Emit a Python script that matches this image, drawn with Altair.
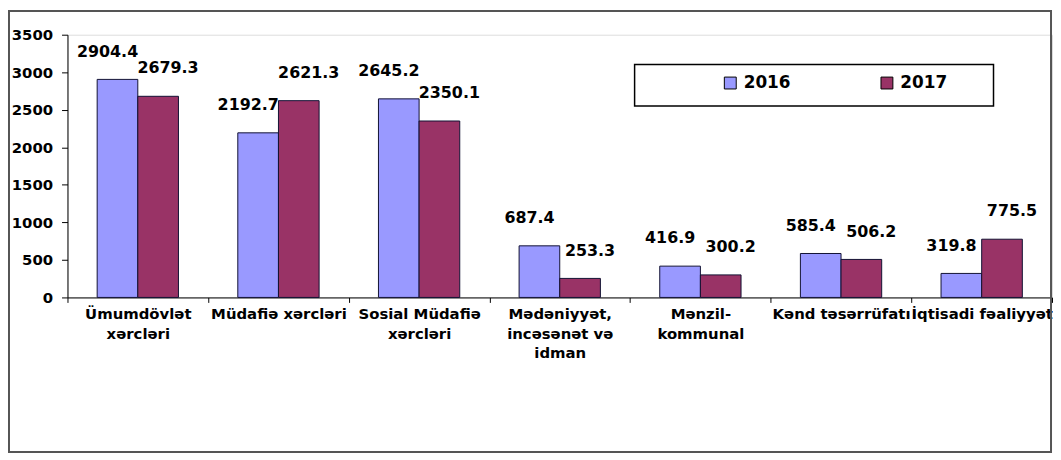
import json
import altair as alt
import pandas as pd

categories = [
    "Ümumdövlət xərcləri",
    "Müdafiə xərcləri",
    "Sosial Müdafiə xərcləri",
    "Mədəniyyət, incəsənət və idman",
    "Mənzil-kommunal",
    "Kənd təsərrüfatı",
    "İqtisadi fəaliyyət",
]
category_lines = [
    ["Ümumdövlət", "xərcləri"],
    ["Müdafiə xərcləri"],
    ["Sosial Müdafiə", "xərcləri"],
    ["Mədəniyyət,", "incəsənət və", "idman"],
    ["Mənzil-", "kommunal"],
    ["Kənd təsərrüfatı"],
    ["İqtisadi fəaliyyət"],
]
years = ["2016", "2017"]
values_2016 = [2904.4, 2192.7, 2645.2, 687.4, 416.9, 585.4, 319.8]
values_2017 = [2679.3, 2621.3, 2350.1, 253.3, 300.2, 506.2, 775.5]
colors = ["#9999FF", "#993366"]

rows = []
for c, v16, v17 in zip(categories, values_2016, values_2017):
    rows.append({"cat": c, "year": "2016", "value": v16})
    rows.append({"cat": c, "year": "2017", "value": v17})
df = pd.DataFrame(rows)

FONT = "DejaVu Sans"

label_expr = (
    json.dumps(category_lines, ensure_ascii=False)
    + "[indexof("
    + json.dumps(categories, ensure_ascii=False)
    + ", datum.label)]"
)

base = alt.Chart(df).encode(
    x=alt.X(
        "cat:N",
        sort=categories,
        scale=alt.Scale(paddingInner=0, paddingOuter=0),
        axis=alt.Axis(
            title=None,
            labelAngle=0,
            labelExpr=label_expr,
            labelFont=FONT,
            labelFontSize=15,
            labelFontWeight="bold",
            labelColor="#000000",
            labelLineHeight=20,
            labelPadding=4,
            labelLimit=400,
            tickBand="extent",
            tickSize=5,
            tickColor="#000000",
            domainColor="#000000",
            labelBaseline="top",
        ),
    ),
    xOffset=alt.XOffset("year:N", sort=years, scale=alt.Scale(paddingOuter=0.73, paddingInner=0)),
    y=alt.Y(
        "value:Q",
        scale=alt.Scale(domain=[0, 3500], nice=False),
        axis=alt.Axis(
            title=None,
            values=list(range(0, 3501, 500)),
            format="d",
            grid=False,
            labelFont=FONT,
            labelFontSize=15,
            labelFontWeight="bold",
            labelColor="#000000",
            labelPadding=9,
            tickSize=6,
            tickColor="#000000",
            domainColor="#000000",
        ),
    ),
)

bars = base.mark_bar(stroke="#111133", strokeWidth=1).encode(
    color=alt.Color(
        "year:N",
        sort=years,
        scale=alt.Scale(domain=years, range=colors),
        legend=alt.Legend(
            title=None,
            orient="none",
            legendX=572,
            legendY=30,
            direction="horizontal",
            symbolType="square",
            symbolSize=144,
            symbolStrokeColor="#000000",
            symbolStrokeWidth=1,
            symbolOpacity=1,
            labelFont=FONT,
            labelFontSize=17,
            labelFontWeight="bold",
            labelColor="#000000",
            labelOffset=5,
            columnPadding=10,
            padding=10,
            symbolOffset=78,
        ),
    )
)

text_style = dict(font=FONT, fontSize=16, fontWeight="bold", color="#000000", baseline="middle")
labels16 = base.transform_filter(alt.datum.year == "2016").mark_text(dx=-10, dy=-28, **text_style).encode(
    text=alt.Text("value:Q", format=".1f")
)
labels17 = base.transform_filter(alt.datum.year == "2017").mark_text(dx=10, dy=-28, **text_style).encode(
    text=alt.Text("value:Q", format=".1f")
)

one_row = pd.DataFrame({"f": [0]})

# outer chart border (decoration)
frame = alt.Chart(one_row).mark_rect(
    filled=False, stroke="#555555", strokeWidth=2
).encode(
    x=alt.value(-59), x2=alt.value(992), y=alt.value(-24), y2=alt.value(421)
)

# legend border box (decoration)
legend_box = alt.Chart(one_row).mark_rect(
    filled=False, stroke="#000000", strokeWidth=1.5
).encode(
    x=alt.value(572), x2=alt.value(934), y=alt.value(30), y2=alt.value(72)
)

chart = (
    alt.layer(frame, legend_box, bars, labels16, labels17)
    .properties(width=993, height=265, padding={"left": 0, "top": 0, "right": 0, "bottom": 0})
    .configure_view(stroke=None)
    .configure(background="#FFFFFF")
)

chart.save("out.html", embed_options={"renderer": "svg", "actions": False})
